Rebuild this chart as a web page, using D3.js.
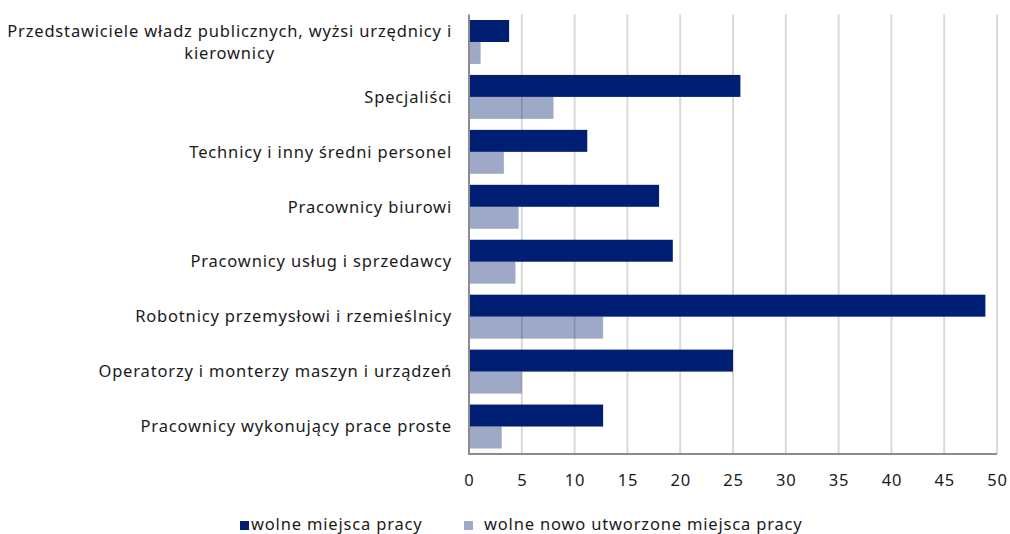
<!DOCTYPE html>
<html>
<head>
<meta charset="utf-8">
<script src="https://cdn.jsdelivr.net/npm/d3@7"></script>
<style>
  html, body { margin: 0; padding: 0; background: #fff; }
  svg { display: block; font-family: 'Noto Sans', 'Open Sans', sans-serif; letter-spacing: 0.83px; }
</style>
</head>
<body>
<div id="chart"></div>
<script>
const categories = [
  ['Przedstawiciele władz publicznych, wyżsi urzędnicy i', 'kierownicy'],
  ['Specjaliści'],
  ['Technicy i inny średni personel'],
  ['Pracownicy biurowi'],
  ['Pracownicy usług i sprzedawcy'],
  ['Robotnicy przemysłowi i rzemieślnicy'],
  ['Operatorzy i monterzy maszyn i urządzeń'],
  ['Pracownicy wykonujący prace proste']
]
const vacancies = [3.8, 25.7, 11.2, 18.0, 19.3, 48.9, 25.0, 12.7]
const newVacancies = [1.1, 8.0, 3.3, 4.7, 4.4, 12.7, 5.0, 3.1]
const xTicks = [0, 5, 10, 15, 20, 25, 30, 35, 40, 45, 50]
const seriesNames = ['wolne miejsca pracy', 'wolne nowo utworzone miejsca pracy']

const width = 1010
const height = 534
const margin = { top: 14.5, right: 13, bottom: 80, left: 469 }
const fontSize = 16.5

const svg = d3.select('#chart')
  .append('svg')
  .attr('width', width)
  .attr('height', height)

const x = d3.scaleLinear()
  .domain([0, 50])
  .range([margin.left, width - margin.right])

const y = d3.scaleBand()
  .domain(d3.range(categories.length))
  .range([margin.top, height - margin.bottom])
  .paddingInner(0.2)
  .paddingOuter(0.1)

const inner = d3.scaleBand()
  .domain([0, 1])
  .range([0, y.bandwidth()])

// gridlines
svg.append('g')
  .selectAll('line')
  .data(xTicks.slice(1))
  .join('line')
  .attr('x1', d => x(d))
  .attr('x2', d => x(d))
  .attr('y1', margin.top)
  .attr('y2', height - margin.bottom)
  .attr('stroke', '#d9d9d9')
  .attr('stroke-width', 2)

const rows = svg.append('g')
  .selectAll('g')
  .data(categories.map((c, i) => ({ label: c, v: vacancies[i], n: newVacancies[i], i })))
  .join('g')
  .attr('transform', d => `translate(0,${y(d.i)})`)

rows.append('rect')
  .attr('x', x(0))
  .attr('y', inner(0))
  .attr('width', d => x(d.v) - x(0))
  .attr('height', inner.bandwidth())
  .attr('fill', '#001f73')

rows.append('rect')
  .attr('x', x(0))
  .attr('y', inner(1))
  .attr('width', d => x(d.n) - x(0))
  .attr('height', inner.bandwidth())
  .attr('fill', '#001e6e')
  .attr('fill-opacity', 0.38)

// category labels
const labels = rows.append('text')
  .attr('fill', '#1a1a1a')
  .attr('font-size', fontSize)

labels.each(function (d) {
  const t = d3.select(this)
  const lineH = 22
  const cy = y.bandwidth() / 2
  if (d.label.length === 1) {
    t.append('tspan')
      .attr('x', 452)
      .attr('y', cy)
      .attr('dy', '0.35em')
      .attr('text-anchor', 'end')
      .text(d.label[0])
  } else {
    const tmp = t.append('tspan').text(d.label[0])
    const w = tmp.node().getComputedTextLength()
    tmp.remove()
    const cx = 452 - w / 2
    d.label.forEach((line, k) => {
      t.append('tspan')
        .attr('x', cx)
        .attr('y', cy + (k - (d.label.length - 1) / 2) * lineH)
        .attr('dy', '0.35em')
        .attr('text-anchor', 'middle')
        .text(line)
    })
  }
})

// axes lines
svg.append('line')
  .attr('x1', x(0)).attr('x2', x(0))
  .attr('y1', margin.top).attr('y2', height - margin.bottom)
  .attr('stroke', '#8c8c8c').attr('stroke-width', 2)

svg.append('line')
  .attr('x1', x(0) - 1).attr('x2', x(50))
  .attr('y1', height - margin.bottom).attr('y2', height - margin.bottom)
  .attr('stroke', '#8c8c8c').attr('stroke-width', 2)

const xAxis = svg.append('g')
  .attr('transform', `translate(0,${height - margin.bottom})`)
  .call(d3.axisBottom(x).tickValues(xTicks).tickSize(0).tickPadding(20))
xAxis.select('.domain').remove()
xAxis.selectAll('text')
  .attr('font-size', fontSize)
  .attr('font-family', "'Noto Sans', 'Open Sans', sans-serif")
  .attr('fill', '#1a1a1a')

// legend
const legend = svg.append('g')
const legendItems = [
  { name: seriesNames[0], x: 240, tx: 251, fill: '#001f73', op: 1 },
  { name: seriesNames[1], x: 464, tx: 484, fill: '#001e6e', op: 0.38 }
]
legendItems.forEach(it => {
  legend.append('rect')
    .attr('x', it.x)
    .attr('y', 521)
    .attr('width', 9)
    .attr('height', 9)
    .attr('fill', it.fill)
    .attr('fill-opacity', it.op)
  legend.append('text')
    .attr('x', it.tx)
    .attr('y', 530)
    .attr('font-size', fontSize)
    .attr('fill', '#1a1a1a')
    .text(it.name)
})
</script>
</body>
</html>
